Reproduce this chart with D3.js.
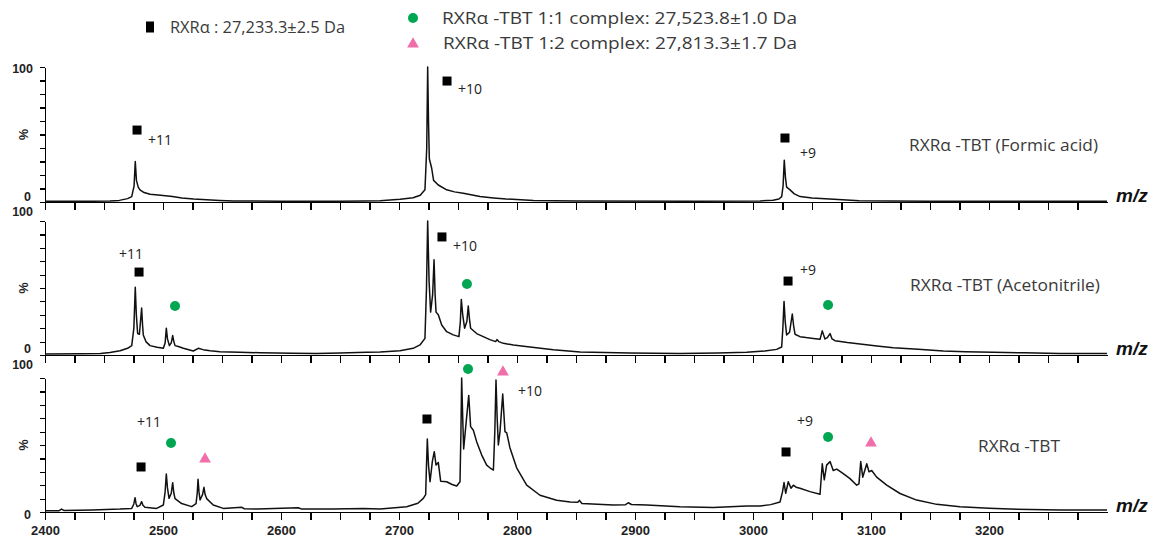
<!DOCTYPE html>
<html><head><meta charset="utf-8">
<script src="https://cdn.jsdelivr.net/npm/d3@7"></script>
<style>
body{margin:0;background:#fff;}
svg{display:block;}
.axis path,.axis line{stroke:#000;stroke-width:1.2;shape-rendering:crispEdges;}
.axis text{font-family:"Liberation Sans",Arial,sans-serif;font-weight:bold;font-size:13px;fill:#222;}
</style>
</head><body>
<svg id="chart" width="1158" height="542"></svg>
<script>
// ---------------- data ----------------
const xTickMajor = [2400, 2500, 2600, 2700, 2800, 2900, 3000, 3100, 3200];
const yTickLabels = ["100", "%", "0"];
const panelNames = ["RXRα -TBT (Formic acid)", "RXRα -TBT (Acetonitrile)", "RXRα -TBT"];
const legendItems = [
  {shape: "square", text: "RXRα : 27,233.3±2.5 Da"},
  {shape: "circle", text: "RXRα -TBT 1:1 complex: 27,523.8±1.0 Da"},
  {shape: "triangle", text: "RXRα -TBT 1:2 complex: 27,813.3±1.7 Da"}
];

// spectra: [m/z, relative intensity %]
const specFormic = [[2400,0.5],[2440,0.5],[2455,0.8],[2463,1.2],[2470,2.5],[2473.5,4],[2475.5,12],[2476.5,30],[2477.5,16],[2479,11],[2480.5,9],[2484,7],[2489,5.7],[2498,5],[2508,4],[2516,3],[2526,2.2],[2537,1.6],[2548,1.2],[2560,0.8],[2600,0.6],[2650,0.6],[2670,0.8],[2684,1],[2701,2],[2712,3.2],[2718,5],[2722,9],[2723.5,40],[2724.3,100],[2725,60],[2725.7,32],[2727.7,25],[2729.3,16],[2733.3,12.6],[2740.4,9],[2747,7.5],[2754.5,6.4],[2768.6,4],[2780,3],[2791,2.2],[2814,1.2],[2850,0.7],[2950,0.6],[3006,0.8],[3017,1.3],[3022,2.2],[3024.3,4],[3025.5,12],[3026.5,31],[3027.5,18],[3028.5,11],[3031.4,9],[3035,6],[3040,4],[3050,3],[3065,2.2],[3090,1],[3116,0.8],[3150,0.6],[3200,0.5],[3300,0.5]];

const specAcn = [[2400,0.7],[2430,0.9],[2447,1.2],[2455,1.8],[2463.6,3.2],[2470,5],[2473.5,7],[2475.3,20],[2476.5,50.5],[2477.4,30],[2478.5,16],[2480,15.5],[2481.9,35],[2482.7,22],[2483.3,15],[2485.5,10],[2489,7],[2495,5.8],[2500.3,5],[2501.8,9],[2502.8,20],[2503.8,12],[2505.4,7],[2507,9],[2508.2,14.5],[2509.2,10],[2510.2,7],[2513,6.3],[2517.2,5],[2525.7,3],[2529.9,5],[2534,4],[2540,3.2],[2548.3,2.5],[2565,2],[2582,1.7],[2610,1.3],[2630,1.2],[2650,1.5],[2672.6,2],[2684,2.2],[2700.8,3.2],[2712,5],[2717.8,7.5],[2722,12.4],[2723.3,50],[2724.3,100],[2725.5,55],[2726.8,32],[2728.5,45],[2729.7,71],[2730.6,45],[2731.4,32],[2733.3,30],[2736.2,22.4],[2740.4,17.4],[2746,15],[2750.8,13.7],[2752,25],[2752.8,41.5],[2754,30],[2755.6,20],[2757.5,25],[2758.7,36.5],[2759.7,27],[2760.7,20],[2765.8,16],[2771.4,13.7],[2777,11.5],[2781.9,10],[2783,11.5],[2784.5,10],[2788.4,8.7],[2796.9,7.5],[2811,6],[2830.8,4],[2853.4,2.3],[2895.8,1.5],[2938,1.2],[2970,1.4],[2994.6,2],[3010,3],[3020,4.2],[3024.3,6],[3025.3,20],[3026.3,40],[3027.3,25],[3028.5,15],[3031,17],[3033.3,30.6],[3034.4,22],[3035.6,15.5],[3039.8,13.7],[3045,13],[3051.1,12.4],[3056.8,11.7],[3058.7,18],[3061,12],[3063,13],[3065.3,16],[3067,12],[3069.5,10.7],[3080,9.3],[3090.7,8.2],[3105,6.8],[3118.9,5.5],[3140,4.2],[3161.3,3],[3180,2.5],[3203.6,2],[3230,1.6],[3260,1.2],[3300,1.2]];

const specTbt = [[2400,1],[2412,1],[2414,2.2],[2416,1.2],[2440,1.5],[2463.6,2.2],[2473.5,2.7],[2475.3,6],[2476.3,10.7],[2477.2,6],[2478.2,4],[2480.5,5],[2481.9,7.7],[2483,5],[2484.7,3.5],[2494.6,2.7],[2500.3,5.2],[2501.8,15],[2502.8,28.4],[2503.8,18],[2505.1,10.2],[2507,14],[2508.2,21.9],[2509.2,14],[2510.2,10],[2515.8,6.3],[2524.3,4],[2528,6.3],[2529,14],[2529.7,24.4],[2530.5,15],[2531.4,9],[2533.5,13],[2534.7,18.4],[2535.7,13],[2537,10],[2542.6,5.2],[2551.1,2.7],[2566.7,3.5],[2569,2.4],[2580,2.2],[2614.7,3.2],[2617,2.3],[2644.3,2.2],[2670,2.6],[2684,2.2],[2706.5,3.9],[2716,6.5],[2720.6,10.2],[2722.6,13],[2723.3,35],[2724,54.5],[2725,35],[2726.3,22.6],[2728.3,38],[2729.9,45],[2731.4,35],[2733.3,37],[2735.3,23],[2740.4,22.6],[2745,20.5],[2748.9,19.4],[2751.7,22.6],[2752.5,60],[2753.1,100],[2754,70],[2754.8,47],[2756.8,66],[2759.1,87],[2760.7,63.7],[2763,61],[2765.8,52.5],[2770.1,42.5],[2774.3,35],[2777,33],[2780,31.3],[2781.2,60],[2782.2,98.5],[2783.2,70],[2784.2,50],[2785.6,60],[2787.9,88],[2789.8,60],[2791.3,59],[2794,48],[2799.7,33],[2808.2,20],[2819.5,12.5],[2833.6,8.7],[2845,7.5],[2851.5,7.2],[2852.8,8.7],[2855,6.4],[2881.6,5.2],[2892,5.5],[2894.3,6.9],[2897,5.6],[2909.9,5.2],[2938,3.9],[2966.4,3.4],[2994.6,4.4],[3006,4.4],[3015,5.5],[3022.9,7.5],[3025,15],[3026.3,22],[3027.7,14],[3029.9,22.6],[3032.2,17.7],[3034.2,20],[3036.5,18.5],[3039.8,17.7],[3048.3,15.2],[3056.8,13.2],[3058.7,36],[3060.4,24],[3062.4,35],[3065.3,37.6],[3068,31],[3071,32],[3076.5,28.6],[3082.2,24.9],[3087.9,20],[3089.8,21],[3091.3,37.6],[3093,26],[3096.4,36],[3098.3,30],[3100.6,31],[3104.8,26],[3113.3,20],[3124.6,13.8],[3138.7,8.9],[3155.7,5.7],[3175.4,3.9],[3200,2.8],[3217.8,2.2],[3260.2,1.5],[3300,1.5]];

// peak markers: [m/z, %, shape]
const markersFormic = [[2478,53.3,"square"],[2740.7,89.6,"square"],[3027.1,47.4,"square"]];
const markersAcn = [[2479.7,61.9,"square"],[2510.2,36.6,"circle"],[2736.4,88.1,"square"],[2757.6,53,"circle"],[3029.7,55.2,"square"],[3063.6,37.3,"circle"]];
const markersTbt = [[2481.4,33.6,"square"],[2506.8,51.5,"circle"],[2535.6,40.3,"triangle"],[2723.7,69.4,"square"],[2758.5,106.7,"circle"],[2788.1,105.2,"triangle"],[3028,44.8,"square"],[3063.6,56,"circle"],[3100,52.2,"triangle"]];

// charge-state labels: [m/z, %, text]
const chargesFormic = [[2487.3,45.9,"+11"],[2750,83.7,"+10"],[3039.8,36.3,"+9"]];
const chargesAcn = [[2462.7,75.4,"+11"],[2745.8,81.3,"+10"],[3039.8,63.4,"+9"]];
const chargesTbt = [[2478,67.2,"+11"],[2800.8,90.3,"+10"],[3037.3,67.9,"+9"]];

// ---------------- layout ----------------
const spectra = [specFormic, specAcn, specTbt];
const markerSets = [markersFormic, markersAcn, markersTbt];
const chargeSets = [chargesFormic, chargesAcn, chargesTbt];
const panels = [
  {top: 67, bottom: 202, y100: 69, y0: 197, nameX: 909, nameY: 145, nameW: 189},
  {top: 221, bottom: 355, y100: 212, y0: 349, nameX: 910, nameY: 285, nameW: 190},
  {top: 378, bottom: 512, y100: 365, y0: 515, nameX: 978, nameY: 446, nameW: 82}
];
const colors = {square: "#000", circle: "#00A651", triangle: "#F06EA9"};
const textColor = "#3a3a3a";
const font = "'Liberation Sans', Arial, sans-serif";
const textFont = "'Open Sans', 'Liberation Sans', sans-serif";

const svg = d3.select("#chart");
const x = d3.scaleLinear().domain([2400, 3300]).range([45, 1107]);
const minorTicks = d3.range(2400, 3276, 25);

function drawMarker(g, shape, cx, cy) {
  if (shape === "square") {
    g.append("rect").attr("x", cx - 4.5).attr("y", cy - 4.5).attr("width", 9).attr("height", 9).attr("fill", colors.square);
  } else if (shape === "circle") {
    g.append("circle").attr("cx", cx).attr("cy", cy).attr("r", 5).attr("fill", colors.circle);
  } else {
    g.append("path").attr("d", d3.symbol(d3.symbolTriangle, 60)()).attr("transform", `translate(${cx},${cy + 1})`).attr("fill", colors.triangle);
  }
}

panels.forEach((p, i) => {
  const y = d3.scaleLinear().domain([0, 100]).range([p.bottom, p.top]);
  const g = svg.append("g");

  // x axis
  const xa = d3.axisBottom(x).tickValues(minorTicks).tickSize(8).tickSizeOuter(0)
    .tickFormat(d => (i === 2 && xTickMajor.includes(d)) ? d : "");
  const gx = g.append("g").attr("class", "axis").attr("transform", `translate(0,${p.bottom})`).call(xa);
  gx.selectAll("text").attr("dy", "0.95em");

  // y axis
  const ya = d3.axisLeft(y).tickValues(d3.range(0, 101, 10)).tickSize(5).tickSizeOuter(0).tickFormat("");
  g.append("g").attr("class", "axis").attr("transform", `translate(45,0)`).call(ya);

  // y labels
  const lab = g.append("g").attr("font-family", font).attr("font-weight", "bold").attr("font-size", 12.5).attr("fill", "#222");
  lab.append("text").attr("x", 33).attr("y", p.y100).attr("dy", "0.35em").attr("text-anchor", "end").text(yTickLabels[0]);
  lab.append("text").attr("x", 31).attr("y", p.y0).attr("dy", "0.35em").attr("text-anchor", "end").text(yTickLabels[2]);
  lab.append("text").attr("transform", `translate(24,${y(50)}) rotate(-90)`).attr("dy", "0.35em").attr("text-anchor", "middle").text(yTickLabels[1]);

  // m/z label
  g.append("text").attr("x", 1116).attr("y", p.bottom).attr("font-family", font).attr("font-weight", "bold")
    .attr("font-style", "italic").attr("font-size", 19).attr("fill", "#111").text("m/z");

  // spectrum line
  const line = d3.line().x(d => x(d[0])).y(d => y(d[1]));
  g.append("path").datum(spectra[i]).attr("d", line).attr("fill", "none").attr("stroke", "#111")
    .attr("stroke-width", 1.5).attr("stroke-linejoin", "round");

  // markers
  markerSets[i].forEach(m => drawMarker(g, m[2], x(m[0]), y(m[1])));

  // charge labels
  chargeSets[i].forEach(c => {
    g.append("text").attr("x", x(c[0])).attr("y", y(c[1])).attr("dy", "0.35em").attr("font-family", textFont)
      .attr("font-size", 14).attr("fill", "#222").text(c[2]);
  });

  // panel name
  g.append("text").attr("x", p.nameX).attr("y", p.nameY).attr("dy", "0.36em").attr("font-family", textFont).attr("font-size", 16)
    .attr("fill", textColor).attr("textLength", p.nameW).attr("lengthAdjust", "spacingAndGlyphs").text(panelNames[i]);
});

// legend
const legPos = [[150, 27, 170, 175], [413, 18, 442, 355], [413, 43, 443, 354]];
legendItems.forEach((it, k) => {
  const [mx, my, tx, tw] = legPos[k];
  if (it.shape === "square") {
    svg.append("rect").attr("x", mx - 4).attr("y", my - 5.5).attr("width", 8).attr("height", 11).attr("fill", "#000");
  } else drawMarker(svg, it.shape, mx, my);
  svg.append("text").attr("x", tx).attr("y", my).attr("dy", "0.36em").attr("font-family", textFont)
    .attr("font-size", 16).attr("fill", textColor).attr("textLength", tw).attr("lengthAdjust", "spacingAndGlyphs").text(it.text);
});
</script>
</body></html>
